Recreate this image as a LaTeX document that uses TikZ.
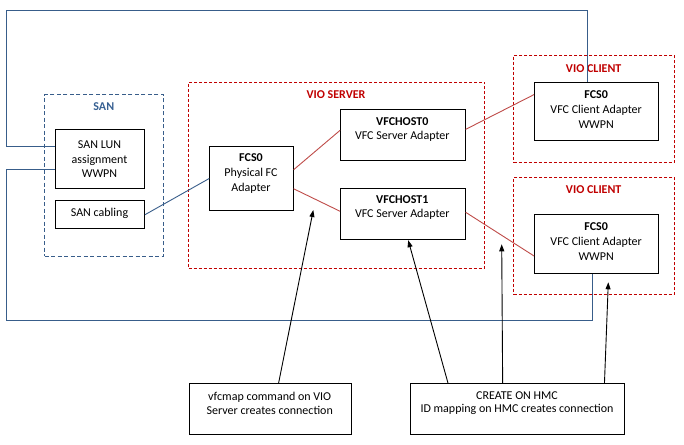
\documentclass[tikz,border=0pt]{standalone}
\usepackage{fontspec}
\setmainfont{Carlito}
\usetikzlibrary{arrows.meta}
\definecolor{lnblue}{HTML}{385D8A}
\definecolor{lblblue}{HTML}{376092}
\definecolor{dred}{HTML}{C00000}
\definecolor{lnred}{HTML}{BE4B48}
\tikzset{
  box/.style={draw=black, line width=0.9pt, inner sep=0pt, anchor=north west},
  redgrp/.style={draw=dred, line width=0.8pt, dash pattern=on 3pt off 2pt, inner sep=0pt, anchor=north west},
  bluegrp/.style={draw=lnblue, line width=0.8pt, dash pattern=on 4pt off 2.5pt, inner sep=0pt, anchor=north west},
  txt/.style={font=\fontsize{12}{14.6}\selectfont, align=center, inner sep=0pt, anchor=center},
  btxt/.style={font=\fontsize{12}{13.4}\selectfont, align=center, inner sep=0pt, anchor=center},
  redlbl/.style={font=\fontsize{12}{14.6}\selectfont\bfseries, text=dred, inner sep=0pt},
  bluelbl/.style={font=\fontsize{12}{14.6}\selectfont\bfseries, text=lblblue, inner sep=0pt},
  blueline/.style={draw=lnblue, line width=0.9pt},
  redline/.style={draw=lnred, line width=0.9pt},
  arr/.style={-{Triangle[length=7pt,width=5pt]}, line width=0.9pt, draw=black}
}
\begin{document}
\begin{tikzpicture}[x=1pt,y=-1pt]
\path[use as bounding box] (0,0) rectangle (684,444);

% group frames
\node[bluegrp, minimum width=119pt, minimum height=161.7pt] (san) at (44.3,94.3) {};
\node[redgrp, minimum width=296pt, minimum height=186.3pt] (vios) at (188.3,81.7) {};
\node[redgrp, minimum width=160.7pt, minimum height=107.3pt] (vioc1) at (513.3,55) {};
\node[redgrp, minimum width=160.7pt, minimum height=117.3pt] (vioc2) at (513.3,177) {};

% boxes
\node[box, minimum width=89pt, minimum height=59pt] (lun) at (55,129.3) {};
\node[box, minimum width=89pt, minimum height=28pt] (cab) at (55,200.3) {};
\node[box, minimum width=83.4pt, minimum height=64pt] (phys) at (209.3,146) {};
\node[box, minimum width=124.7pt, minimum height=50.7pt] (vh0) at (340,109.3) {};
\node[box, minimum width=124.7pt, minimum height=51pt] (vh1) at (340,188.3) {};
\node[box, minimum width=124.3pt, minimum height=57.7pt] (c1) at (534,82.3) {};
\node[box, minimum width=124.3pt, minimum height=58.4pt] (c2) at (534,214.3) {};
\node[box, minimum width=162pt, minimum height=51pt] (vfc) at (188.6,383.3) {};
\node[box, minimum width=214.8pt, minimum height=51pt] (hmc) at (409.6,383.3) {};

% group labels
\node[bluelbl] (sant) at (103.8,106.7) {SAN};
\node[redlbl] (viost) at (336,94.3) {VIO SERVER};
\node[redlbl] (vc1t) at (593.7,68.3) {VIO CLIENT};
\node[redlbl] (vc2t) at (593.7,190) {VIO CLIENT};

% box texts
\node[txt] (lunt) at (99.5,159.3) {SAN LUN\\assignment\\WWPN};
\node[txt] (cabt) at (99.5,213.3) {SAN cabling};
\node[txt] (physt) at (251,173.5) {\textbf{FCS0}\\Physical FC\\Adapter};
\node[txt] (vh0t) at (402.3,129.5) {\textbf{VFCHOST0}\\VFC Server Adapter};
\node[txt] (vh1t) at (402.3,207.7) {\textbf{VFCHOST1}\\VFC Server Adapter};
\node[txt] (c1t) at (596.2,109.5) {\textbf{FCS0}\\VFC Client Adapter\\WWPN};
\node[txt] (c2t) at (596.2,241.5) {\textbf{FCS0}\\VFC Client Adapter\\WWPN};
\node[btxt] (vfct) at (269.7,403.4) {vfcmap command on VIO\\Server creates connection};
\node[btxt] (hmct) at (517,403.4) {CREATE ON HMC\\ID mapping on HMC creates connection};

% blue SAN loops
\coordinate (tl) at (6.5,10.5);
\coordinate (bl) at (6.5,320.3);
\draw[blueline] ([yshift=12.8pt]lun.west) -| (tl) -| ([xshift=-9.5pt]c1.north);
\draw[blueline] ([yshift=-10.5pt]lun.west) -| (bl) -| ([xshift=-4.5pt]c2.south);
\draw[blueline] (cab.east) -- (phys.west);

% red links
\draw[redline] ([yshift=8.7pt]phys.east) -- ([yshift=4.7pt]vh0.west);
\draw[redline] ([yshift=-10.3pt]phys.east) -- ([yshift=3pt]vh1.west);
\draw[redline] ([yshift=5.7pt]vh0.east) -- ([yshift=17pt]c1.west);
\draw[redline] ([yshift=2pt]vh1.east) -- ([yshift=-12pt]c2.west);

% arrows
\coordinate (t1) at (313.3,210);
\coordinate (t2) at (501.7,244.3);
\coordinate (t3) at (608.3,282.3);
\draw[arr] ([xshift=8.5pt]vfc.north) -- (t1);
\draw[arr] ([xshift=-69.4pt]hmc.north) -- ([xshift=5.4pt]vh1.south);
\draw[arr] ([xshift=-14.8pt]hmc.north) -- (t2);
\draw[arr] ([xshift=87pt]hmc.north) -- (t3);
\end{tikzpicture}
\end{document}
